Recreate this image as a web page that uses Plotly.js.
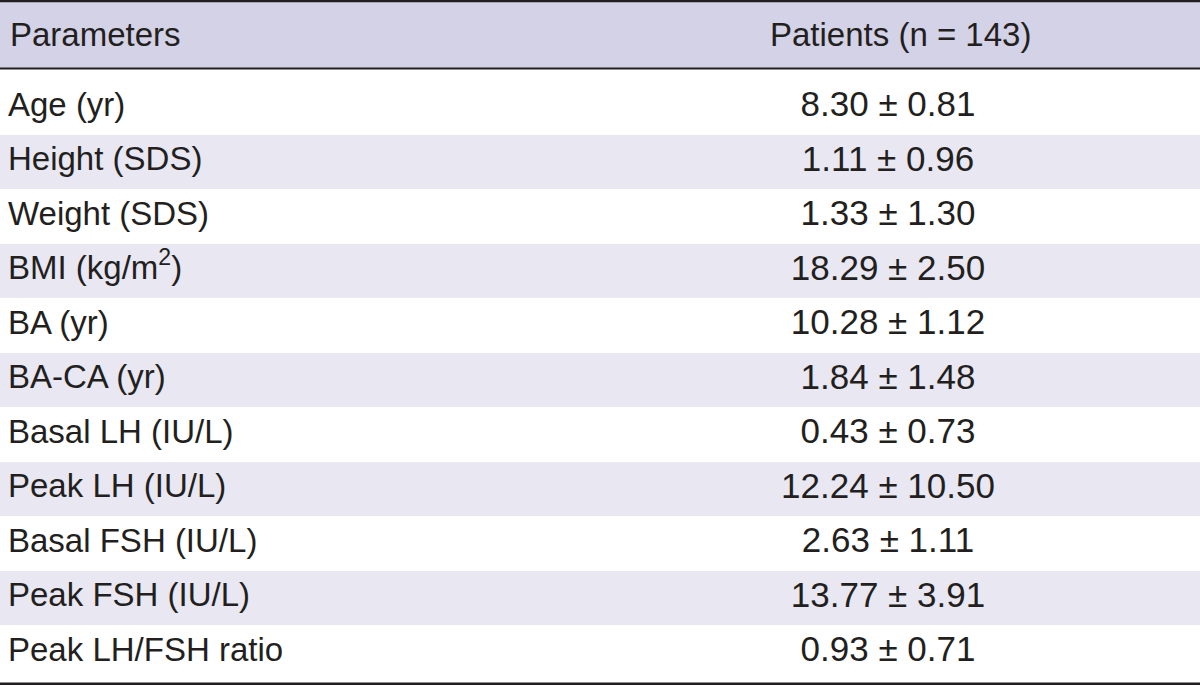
<!DOCTYPE html>
<html>
<head>
<meta charset="utf-8">
<script src="https://cdn.plot.ly/plotly-3.0.1.min.js"></script>
<style>html,body{margin:0;padding:0;background:#fff;}#chart{width:1200px;height:686px;}</style>
</head>
<body>
<div id="chart"></div>
<script>
const headers = ["Parameters", "Patients (n = 143)"];
const parameters = ["Age (yr)", "Height (SDS)", "Weight (SDS)", "BMI (kg/m<sup>2</sup>)", "BA (yr)", "BA-CA (yr)", "Basal LH (IU/L)", "Peak LH (IU/L)", "Basal FSH (IU/L)", "Peak FSH (IU/L)", "Peak LH/FSH ratio"];
const means = [8.30, 1.11, 1.33, 18.29, 10.28, 1.84, 0.43, 12.24, 2.63, 13.77, 0.93];
const sds = [0.81, 0.96, 1.30, 2.50, 1.12, 1.48, 0.73, 10.50, 1.11, 3.91, 0.71];

// ---- styling / layout constants ----
const W = 1200, H = 686;
const HEADER_BOTTOM = 69, TABLE_BOTTOM = 683;
const GRID_TOP = 80, ROW = 54.5;          // row grid (pixels)
const COL1_X = 8, COL2_X = 888, HEAD2_X = 900;
const FONT = "'Liberation Sans', Arial, sans-serif";
const FSIZE = 33, VSIZE = 35;
const TXT = "#231f20";
const HEAD_FILL = "#d4d2e6", STRIPE = "#e8e7f2";

const values = means.map((m, i) => m.toFixed(2) + " \u00B1 " + sds[i].toFixed(2));
const rowFill = parameters.map((_, i) => i % 2 === 1 ? STRIPE : "#ffffff");
const py = p => 1 - p / H;

const stripes = {
  type: "bar", orientation: "h",
  y: parameters, x: parameters.map(() => W), base: 0, width: 1,
  marker: {color: rowFill, line: {width: 0}},
  hoverinfo: "skip", showlegend: false
};
const col1 = {
  type: "scatter", mode: "text",
  y: parameters, x: parameters.map(() => COL1_X),
  text: parameters, textposition: "middle right",
  textfont: {family: FONT, size: FSIZE, color: TXT},
  hoverinfo: "skip", showlegend: false, cliponaxis: false
};
const col2 = {
  type: "scatter", mode: "text",
  y: parameters, x: parameters.map(() => COL2_X),
  text: values, textposition: "middle center",
  textfont: {family: FONT, size: VSIZE, color: TXT},
  hoverinfo: "skip", showlegend: false, cliponaxis: false
};

const lineShape = (p0, p1) => ({
  type: "rect", xref: "paper", yref: "paper", x0: 0, x1: 1,
  y0: py(p1), y1: py(p0), fillcolor: TXT, line: {width: 0}, layer: "above"
});

const layout = {
  width: W, height: H,
  margin: {l: 0, r: 0, t: 0, b: 0, pad: 0},
  paper_bgcolor: "#ffffff", plot_bgcolor: "#ffffff",
  showlegend: false, bargap: 0,
  xaxis: {range: [0, W], visible: false, fixedrange: true},
  yaxis: {
    type: "category", categoryorder: "array", categoryarray: parameters,
    range: [-0.5 + (H - GRID_TOP) / ROW, -0.5 - GRID_TOP / ROW],
    visible: false, fixedrange: true
  },
  shapes: [
    {type: "rect", xref: "paper", yref: "paper", x0: 0, x1: 1, y0: py(HEADER_BOTTOM), y1: 1,
     fillcolor: HEAD_FILL, line: {width: 0}, layer: "above"},
    {type: "rect", xref: "paper", yref: "paper", x0: 0, x1: 1, y0: 0, y1: py(TABLE_BOTTOM),
     fillcolor: "#ffffff", line: {width: 0}, layer: "above"},
    lineShape(0, 2.2), lineShape(67.5, 69.5), lineShape(682.6, 685)
  ],
  annotations: [
    {text: headers[0], xref: "x", yref: "paper", x: COL1_X, y: py(35), xanchor: "left", yanchor: "middle",
     showarrow: false, font: {family: FONT, size: FSIZE, color: TXT}},
    {text: headers[1], xref: "x", yref: "paper", x: HEAD2_X, y: py(35), xanchor: "center", yanchor: "middle",
     showarrow: false, font: {family: FONT, size: FSIZE, color: TXT}}
  ]
};

Plotly.newPlot("chart", [stripes, col1, col2], layout, {displayModeBar: false, staticPlot: true});
</script>
</body>
</html>
